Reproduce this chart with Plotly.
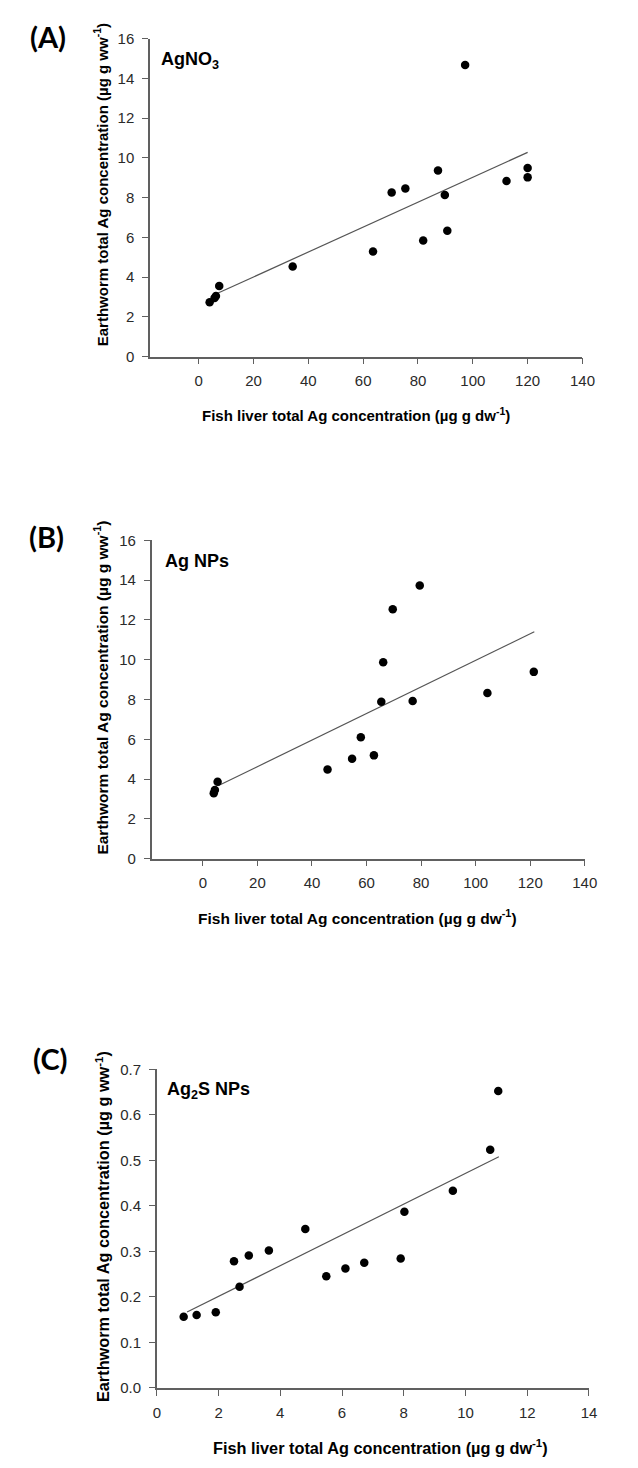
import plotly.graph_objects as go

W, H = 638, 1468

# ---------------- data ----------------
a_x = [4.0, 5.8, 6.3, 7.5, 34.3, 63.6, 70.4, 75.4, 81.9, 87.3, 89.8, 90.7, 97.2, 112.3, 120.0, 120.0]
a_y = [2.74, 2.95, 3.05, 3.55, 4.53, 5.29, 8.26, 8.46, 5.84, 9.37, 8.13, 6.34, 14.68, 8.84, 9.49, 9.02]
a_fit_x = [7.1, 120.0]
a_fit_y = [3.2, 10.28]

b_x = [4.0, 4.4, 5.4, 45.7, 54.7, 57.9, 62.7, 65.4, 66.1, 69.6, 76.9, 79.5, 104.3, 121.3]
b_y = [3.28, 3.45, 3.86, 4.48, 5.02, 6.10, 5.19, 7.89, 9.87, 12.54, 7.93, 13.73, 8.33, 9.39]
b_fit_x = [5.6, 121.5]
b_fit_y = [3.66, 11.41]

c_x = [0.87, 1.29, 1.91, 2.50, 2.68, 2.98, 3.63, 4.81, 5.49, 6.11, 6.72, 7.90, 8.02, 9.59, 10.80, 11.06]
c_y = [0.156, 0.160, 0.166, 0.278, 0.222, 0.291, 0.302, 0.349, 0.245, 0.262, 0.275, 0.284, 0.387, 0.433, 0.523, 0.652]
c_fit_x = [0.98, 11.08]
c_fit_y = [0.1665, 0.5076]

x_ticks_ab = [0, 20, 40, 60, 80, 100, 120, 140]
y_ticks_ab = [0, 2, 4, 6, 8, 10, 12, 14, 16]
x_ticks_c = [0, 2, 4, 6, 8, 10, 12, 14]
y_ticks_c = [0.0, 0.1, 0.2, 0.3, 0.4, 0.5, 0.6, 0.7]

panel_letters = ["(A)", "(B)", "(C)"]
panel_names = ["AgNO<sub>3</sub>", "Ag NPs", "Ag<sub>2</sub>S NPs"]
y_title = "Earthworm total Ag concentration (µg g ww<sup>-1</sup>)"
x_title = "Fish liver total Ag concentration (µg g dw<sup>-1</sup>)"

# ---------------- layout helpers ----------------
def fx(px):
    return px / W

def fy(py):
    return 1 - py / H

panels = [
    dict(data=(a_x, a_y, a_fit_x, a_fit_y), xdom=(150, 594.3), ydom=(30, 351.7),
         xr=[-17.75, 140], yr=[0, 16], xt=x_ticks_ab, yt=y_ticks_ab, yfmt=None,
         letter=(45, 27.5), name=(159, 52), ytit=(99.5, 177.5, 15), xtit=(362, 410, 15)),
    dict(data=(b_x, b_y, b_fit_x, b_fit_y), xdom=(151.7, 596.7), ydom=(537.7, 859.5),
         xr=[-18.77, 140], yr=[0, 16], xt=x_ticks_ab, yt=y_ticks_ab, yfmt=None,
         letter=(44, 534), name=(163, 558.5), ytit=(99.5, 686.7, 15.5), xtit=(363.5, 919, 15.5)),
    dict(data=(c_x, c_y, c_fit_x, c_fit_y), xdom=(157, 601), ydom=(1072.7, 1395),
         xr=[0, 14], yr=[0, 0.7], xt=x_ticks_c, yt=y_ticks_c, yfmt=".1f",
         letter=(48, 1062), name=(165, 1094), ytit=(101, 1232, 16.3), xtit=(386.5, 1455, 16.3)),
]

fig = go.Figure()
annotations = []
axis_color = "#606060"
tick_font = dict(family="Liberation Sans, Arial, sans-serif", size=15, color="#2a2a2a")
bold_font = "Liberation Sans, Arial, sans-serif"

for i, p in enumerate(panels, start=1):
    sx = "" if i == 1 else str(i)
    xs, ys, fxs, fys = p["data"]
    fig.add_trace(go.Scatter(x=fxs, y=fys, mode="lines",
                             line=dict(color="#555555", width=1.2),
                             xaxis="x" + sx, yaxis="y" + sx, showlegend=False,
                             hoverinfo="skip"))
    fig.add_trace(go.Scatter(x=xs, y=ys, mode="markers",
                             marker=dict(color="black", size=8.5),
                             xaxis="x" + sx, yaxis="y" + sx, showlegend=False))
    common = dict(showline=True, linecolor=axis_color, linewidth=1.5,
                  ticks="outside", ticklen=6, tickwidth=1.3, tickcolor=axis_color,
                  showgrid=False, zeroline=False, tickfont=tick_font, fixedrange=True)
    fig.update_layout(**{
        "xaxis" + sx: dict(domain=[fx(p["xdom"][0]), fx(p["xdom"][1])],
                           range=p["xr"], tickvals=p["xt"], anchor="y" + sx,
                           ticklabelstandoff=4, **common),
        "yaxis" + sx: dict(domain=[fy(p["ydom"][1]), fy(p["ydom"][0])],
                           range=p["yr"], tickvals=p["yt"], anchor="x" + sx,
                           tickformat=p["yfmt"], ticklabelstandoff=5, **common),
    })
    annotations.append(dict(text="<b>%s</b>" % panel_letters[i - 1],
                            x=fx(p["letter"][0]), y=fy(p["letter"][1]), xref="paper", yref="paper",
                            xanchor="center", yanchor="middle", showarrow=False,
                            font=dict(family="Lato, sans-serif", size=29, color="black")))
    annotations.append(dict(text="<b>%s</b>" % panel_names[i - 1],
                            x=fx(p["name"][0]), y=fy(p["name"][1]), xref="paper", yref="paper",
                            xanchor="left", yanchor="middle", showarrow=False,
                            font=dict(family=bold_font, size=18, color="black")))
    annotations.append(dict(text="<b>%s</b>" % y_title, textangle=-90,
                            x=fx(p["ytit"][0]), y=fy(p["ytit"][1]), xref="paper", yref="paper",
                            xanchor="center", yanchor="middle", showarrow=False,
                            font=dict(family=bold_font, size=p["ytit"][2], color="black")))
    annotations.append(dict(text="<b>%s</b>" % x_title,
                            x=fx(p["xtit"][0]), y=fy(p["xtit"][1]), xref="paper", yref="paper",
                            xanchor="center", yanchor="middle", showarrow=False,
                            font=dict(family=bold_font, size=p["xtit"][2], color="black")))

fig.update_layout(width=W, height=H, margin=dict(l=0, r=0, t=0, b=0),
                  paper_bgcolor="white", plot_bgcolor="white",
                  annotations=annotations, showlegend=False)

fig.write_html("out.html")
